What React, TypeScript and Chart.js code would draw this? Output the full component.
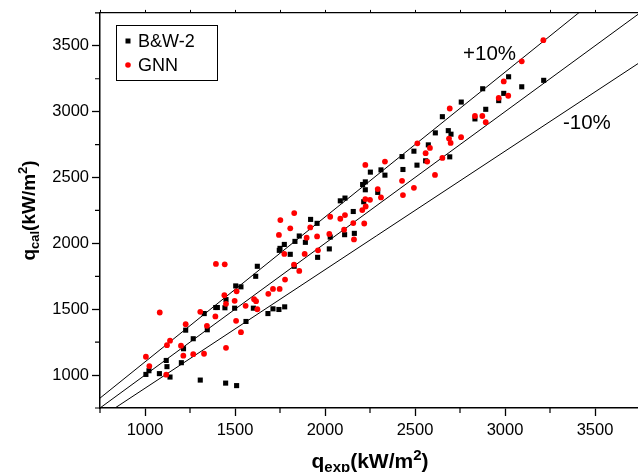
import React, { useEffect, useRef } from 'react';
import { Chart, registerables } from 'chart.js';

Chart.register(...registerables);

// B&W-2 correlation (black squares)
const bwExp = [
  1624, 1615, 1504, 1533, 1450, 1393, 1402, 1444, 1498, 1329, 1226, 1346, 1268, 1214, 1561, 1602,
  1118, 1122, 1202, 1022, 1005, 1080, 1139, 1307, 1448, 1509,
  2224, 2209, 2224, 2085, 2111, 2157, 2215, 1920, 1956, 1857, 1833, 1891, 1750, 1774, 1746, 1807,
  1959, 2024, 2109, 2163, 2029, 1829, 1683, 1711, 1744, 1776,
  2757, 2652, 2893, 2833, 2685, 2700, 2613, 2494, 2428, 2574, 2511, 2559, 2433, 2693, 2311, 2333,
  2252, 2293,
  3020, 2876, 3093, 2993, 3215, 2965,
];
const bwCal = [
  1826, 1750, 1677, 1670, 1573, 1513, 1513, 1511, 1508, 1467, 1341, 1344, 1276, 1200, 1407, 1508,
  1111, 1064, 1094, 1033, 1005, 1011, 985, 962, 939, 920,
  2467, 2447, 2407, 2323, 2344, 2242, 2316, 2182, 2152, 2056, 2015, 2008, 1962, 1992, 1947, 1917,
  1894, 1958, 2066, 2076, 2048, 1826, 1467, 1503, 1498, 1518,
  3073, 2962, 3018, 2945, 2856, 2829, 2839, 2700, 2659, 2748, 2594, 2627, 2561, 2657, 2558, 2518,
  2541, 2387,
  3265, 3174, 3189, 3139, 3238, 3084,
];

// GNN model (red circles)
const gnnExp = [
  1394, 1443, 1082, 1307, 1441, 1450, 1509, 1498, 1391, 1226, 1344, 1139, 1122, 1200, 1213, 1268,
  1328, 1005, 1024, 1118, 1450, 1506, 1533, 1559, 1606, 1617, 1624,
  1829, 1752, 1807, 1744, 1918, 1898, 1956, 2029, 2085, 2111, 2024, 2106, 2157, 2218, 2161, 2207,
  2226, 2224, 2250, 2293, 1774, 1887, 1961, 1828, 1857, 1778, 1748, 1711, 1685,
  2693, 2833, 2874, 2893, 2756, 2689, 2698, 2583, 2513, 2559, 2568, 2652, 2611, 2333, 2224, 2428,
  2494, 2433, 2311,
  3213, 3093, 2993, 2965, 3018,
];
const gnnCal = [
  1844, 1841, 1475, 1480, 1606, 1541, 1636, 1564, 1445, 1386, 1374, 1261, 1227, 1223, 1147, 1159,
  1162, 1139, 1068, 1003, 1207, 1412, 1326, 1526, 1576, 1561, 1500,
  2230, 2177, 2114, 2064, 2121, 2043, 2053, 2202, 2187, 2215, 2071, 2104, 2154, 2151, 2030, 2253,
  2280, 2336, 2331, 2412, 1920, 1920, 1947, 1839, 1791, 1725, 1654, 1654, 1617,
  3024, 2967, 2967, 2920, 2806, 2796, 2763, 2725, 2760, 2685, 2621, 2649, 2520, 2621, 2596, 2475,
  2422, 2367, 2349,
  3543, 3382, 3230, 3104, 3121,
];

const axisMin = 750;
const axisMax = 3750;
const majorTicks = [1000, 1500, 2000, 2500, 3000, 3500];
const minorTicks = [750, 1250, 1750, 2250, 2750, 3250, 3750];
const refRatios = [1, 1.1, 0.9];
const bandLabels = ['+10%', '-10%'];
const bandLabelAt = [
  [2767, 3437],
  [3322, 2914],
];

const FONT = '"Liberation Sans", Arial, sans-serif';

type Part = { text: string; size: number; dy: number };

function drawRich(ctx: CanvasRenderingContext2D, parts: Part[], cx: number, cy: number, rotate: boolean) {
  ctx.save();
  ctx.translate(cx, cy);
  if (rotate) ctx.rotate(-Math.PI / 2);
  let total = 0;
  const widths = parts.map((p) => {
    ctx.font = `bold ${p.size}px ${FONT}`;
    const w = ctx.measureText(p.text).width;
    total += w;
    return w;
  });
  let x = -total / 2;
  ctx.textAlign = 'left';
  ctx.textBaseline = 'alphabetic';
  ctx.fillStyle = '#000';
  parts.forEach((p, i) => {
    ctx.font = `bold ${p.size}px ${FONT}`;
    ctx.fillText(p.text, x, p.dy);
    x += widths[i];
  });
  ctx.restore();
}

const decorPlugin = {
  id: 'decor',
  afterDraw(chart: any) {
    const ctx: CanvasRenderingContext2D = chart.ctx;
    const xs = chart.scales.x;
    const ys = chart.scales.y;
    const area = chart.chartArea;
    ctx.save();
    // minor ticks
    ctx.strokeStyle = '#000';
    ctx.lineWidth = 1.2;
    ctx.beginPath();
    minorTicks.forEach((v) => {
      const px = xs.getPixelForValue(v);
      ctx.moveTo(px, area.bottom);
      ctx.lineTo(px, area.bottom + 5);
      const py = ys.getPixelForValue(v);
      ctx.moveTo(area.left, py);
      ctx.lineTo(area.left - 5, py);
    });
    ctx.stroke();

    // band labels
    ctx.fillStyle = '#000';
    ctx.font = `20.5px ${FONT}`;
    ctx.textAlign = 'left';
    ctx.textBaseline = 'middle';
    bandLabels.forEach((t, i) => {
      ctx.fillText(t, xs.getPixelForValue(bandLabelAt[i][0]), ys.getPixelForValue(bandLabelAt[i][1]));
    });

    // legend
    ctx.lineWidth = 1;
    ctx.strokeStyle = '#000';
    ctx.strokeRect(116.5, 25.5, 101, 55);
    ctx.fillStyle = '#000';
    ctx.fillRect(125.5, 38.5, 5, 5);
    ctx.fillStyle = '#ff0000';
    ctx.beginPath();
    ctx.arc(128, 65, 2.8, 0, Math.PI * 2);
    ctx.fill();
    ctx.fillStyle = '#000';
    ctx.font = `18px ${FONT}`;
    ctx.textBaseline = 'middle';
    ctx.fillText(chart.data.datasets[3].label, 138, 42);
    ctx.fillText(chart.data.datasets[4].label, 138, 66);
    ctx.restore();

    // axis titles
    drawRich(
      ctx,
      [
        { text: 'q', size: 21, dy: 0 },
        { text: 'exp', size: 15, dy: 4 },
        { text: '(kW/m', size: 21, dy: 0 },
        { text: '2', size: 15, dy: -8 },
        { text: ')', size: 21, dy: 0 },
      ],
      (area.left + area.right) / 2,
      468,
      false
    );
    drawRich(
      ctx,
      [
        { text: 'q', size: 19, dy: 0 },
        { text: 'cal', size: 13, dy: 4 },
        { text: '(kW/m', size: 19, dy: 0 },
        { text: '2', size: 13, dy: -8 },
        { text: ')', size: 19, dy: 0 },
      ],
      34.5,
      (area.top + area.bottom) / 2,
      true
    );
  },
};

export default function App() {
  const ref = useRef<HTMLCanvasElement | null>(null);

  useEffect(() => {
    if (!ref.current) return;
    const tickFont = { family: FONT, size: 16.5 };
    const fmt = (v: any) => String(v);
    const chart = new Chart(ref.current, {
      type: 'scatter',
      data: {
        datasets: [
          ...refRatios.map((r, i) => ({
            type: 'line' as const,
            label: `ref${i}`,
            data: [
              { x: axisMin, y: axisMin * r },
              { x: axisMax, y: axisMax * r },
            ],
            borderColor: '#000',
            borderWidth: 1,
            pointRadius: 0,
            showLine: true,
            fill: false,
            order: 3,
          })),
          {
            label: 'B&W-2',
            data: bwExp.map((x, i) => ({ x, y: bwCal[i] })),
            pointStyle: 'rect',
            pointRadius: 3.6,
            backgroundColor: '#000',
            borderWidth: 0,
            order: 2,
          },
          {
            label: 'GNN',
            data: gnnExp.map((x, i) => ({ x, y: gnnCal[i] })),
            pointStyle: 'circle',
            pointRadius: 2.9,
            backgroundColor: '#ff0000',
            borderWidth: 0,
            order: 1,
          },
        ] as any,
      },
      options: {
        responsive: false,
        animation: false,
        devicePixelRatio: 1,
        layout: { padding: { top: 7, right: 20, bottom: 0, left: 0 } },
        plugins: { legend: { display: false }, tooltip: { enabled: false } },
        scales: {
          x: {
            type: 'linear',
            position: 'bottom',
            min: axisMin,
            max: axisMax,
            afterBuildTicks: (s: any) => {
              s.ticks = majorTicks.map((v) => ({ value: v }));
            },
            afterFit: (s: any) => {
              s.height = 64;
            },
            grid: { drawOnChartArea: false, drawTicks: true, tickLength: 8, tickWidth: 1.3, tickColor: '#000' },
            border: { display: true, color: '#000', width: 1.5 },
            ticks: { color: '#000', font: tickFont, padding: 5, maxRotation: 0, autoSkip: false, callback: fmt },
          },
          x2: {
            type: 'linear',
            position: 'top',
            min: axisMin,
            max: axisMax,
            afterBuildTicks: (s: any) => {
              s.ticks = [...minorTicks, ...majorTicks].map((v) => ({ value: v }));
            },
            afterFit: (s: any) => {
              s.height = 3;
            },
            grid: { drawOnChartArea: false, drawTicks: true, tickLength: 3, tickWidth: 1, tickColor: '#000' },
            border: { display: true, color: '#000', width: 1.2 },
            ticks: { display: false },
          },
          y: {
            type: 'linear',
            position: 'left',
            min: axisMin,
            max: axisMax,
            afterBuildTicks: (s: any) => {
              s.ticks = majorTicks.map((v) => ({ value: v }));
            },
            afterFit: (s: any) => {
              s.width = 100;
            },
            grid: { drawOnChartArea: false, drawTicks: true, tickLength: 8, tickWidth: 1.3, tickColor: '#000' },
            border: { display: true, color: '#000', width: 1.5 },
            ticks: { color: '#000', font: tickFont, padding: 3, autoSkip: false, callback: fmt },
          },
        },
      } as any,
      plugins: [decorPlugin],
    });
    return () => chart.destroy();
  }, []);

  return (
    <div style={{ position: 'fixed', left: 0, top: 0, width: 638, height: 472, overflow: 'hidden', background: '#fff' }}>
      <canvas ref={ref} width={660} height={472} style={{ display: 'block' }} />
    </div>
  );
}
